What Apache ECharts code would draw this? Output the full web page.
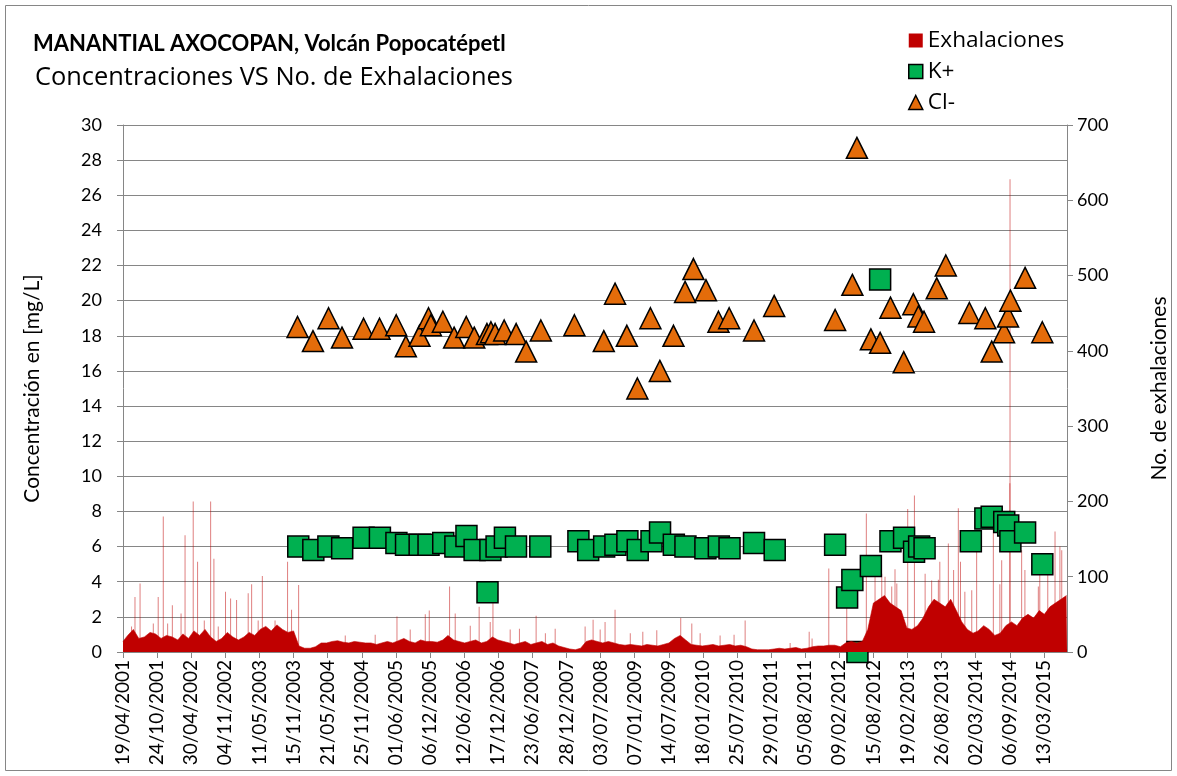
<!DOCTYPE html>
<html>
<head>
<meta charset="utf-8">
<script src="https://cdn.jsdelivr.net/npm/echarts@6/dist/echarts.min.js"></script>
<style>
  html, body { margin: 0; padding: 0; background: #fff; }
  #chart { width: 1177px; height: 776px; }
</style>
</head>
<body>
<div id="chart"></div>
<script>
// Axis origin: first tick of the date axis (Excel major unit = 188 days)
var axisStart = '2001-04-19';
var axisEnd = '2015-07-18';
var tickStepDays = 188;

// K+ (mg/L)
var kDates = ['2003-12-11','2004-03-03','2004-05-25','2004-08-09','2004-12-05','2005-03-05','2005-06-04','2005-07-27','2005-10-10','2005-11-28',
  '2006-02-17','2006-04-25','2006-06-25','2006-08-09','2006-10-19','2006-11-04','2006-12-08','2007-01-23','2007-03-25','2007-08-06',
  '2008-03-03','2008-04-26','2008-07-23','2008-09-23','2008-11-28','2009-01-24','2009-04-10','2009-05-27','2009-08-11','2009-10-14',
  '2010-02-01','2010-04-16','2010-06-14','2010-10-27','2011-02-18','2012-01-17','2012-03-23','2012-04-21','2012-05-19','2012-08-01',
  '2012-09-21','2012-11-17','2013-01-31','2013-03-27','2013-04-24','2013-05-24','2014-02-03','2014-04-24','2014-05-29','2014-08-06',
  '2014-08-28','2014-09-09','2014-11-29','2015-03-04'];
var kValues = [6.0,5.8,6.0,5.9,6.5,6.5,6.2,6.1,6.1,6.1,
  6.2,6.0,6.6,5.8,3.4,5.8,6.0,6.5,6.0,6.0,
  6.3,5.8,6.0,6.1,6.3,5.8,6.3,6.8,6.1,6.0,
  5.9,6.0,5.9,6.2,5.8,6.1,3.1,4.1,0.0,4.9,
  21.2,6.3,6.5,5.7,6.0,5.9,6.3,7.6,7.7,7.4,
  7.2,6.3,6.8,5.0];

// Cl- (mg/L)
var clDates = ['2003-12-07','2004-03-01','2004-05-26','2004-08-08','2004-12-05','2005-03-03','2005-06-03','2005-07-26','2005-10-09','2005-11-28',
  '2005-12-11','2006-02-15','2006-04-18','2006-06-24','2006-08-07','2006-10-16','2006-11-07','2006-11-30','2007-01-19','2007-03-26',
  '2007-05-20','2007-08-09','2008-02-10','2008-07-21','2008-09-21','2008-11-25','2009-01-22','2009-04-04','2009-05-26','2009-08-09',
  '2009-10-12','2009-11-27','2010-02-04','2010-04-14','2010-06-12','2010-10-27','2011-02-15','2012-01-17','2012-04-21','2012-05-16',
  '2012-08-01','2012-09-21','2012-11-17','2013-01-29','2013-03-23','2013-04-20','2013-05-21','2013-07-30','2013-09-18','2014-01-26',
  '2014-04-24','2014-05-29','2014-08-05','2014-08-27','2014-09-09','2014-11-29','2015-03-04'];
var clValues = [18.5,17.7,19.0,17.9,18.4,18.4,18.6,17.4,18.0,19.0,
  18.6,18.8,17.9,18.5,17.9,18.1,18.2,18.1,18.3,18.1,
  17.1,18.3,18.6,17.7,20.4,18.0,15.0,19.0,16.0,18.0,
  20.5,21.8,20.6,18.8,19.0,18.3,19.7,18.9,20.9,28.7,
  17.8,17.6,19.6,16.5,19.8,19.1,18.8,20.7,22.0,19.3,
  19.0,17.1,18.2,19.1,20.0,21.3,18.2];

// Exhalaciones: typical monthly level, one value per month from 2001-04 to 2015-07
var exhFirstMonth = '2001-04';
var exhMonthly = [
  14,22,30,18,20,26,24,18,22,
  20,16,24,18,28,22,30,20,14,18,26,20,
  16,20,26,22,30,34,28,36,30,26,28,8,
  5,5,7,12,12,14,15,13,12,14,13,12,
  12,10,12,14,12,15,18,14,12,16,14,14,
  13,16,22,16,14,12,14,16,12,14,20,16,
  14,12,10,12,14,10,12,14,10,12,8,6,
  4,3,5,14,16,14,12,14,12,10,9,10,
  9,8,10,9,8,10,12,18,22,16,10,9,
  8,9,10,8,9,10,8,9,7,4,3,3,
  3,4,5,4,5,6,4,5,7,8,8,9,
  9,7,12,14,12,14,30,65,70,75,65,60,
  55,32,30,35,45,60,70,65,60,70,55,40,
  30,25,28,35,30,22,25,35,40,35,45,50,
  45,55,50,60,65,70,75];

// Exhalaciones: isolated daily peaks
var exhPeakDates = ['2001-06-05','2001-06-24','2001-07-22','2001-10-03','2001-10-30','2001-11-27','2001-12-21','2002-01-16','2002-03-05','2002-03-27',
  '2002-05-11','2002-06-04','2002-07-11','2002-08-15','2002-09-02','2002-09-26','2002-11-05','2002-12-03','2003-01-05','2003-03-10',
  '2003-03-29','2003-05-04','2003-05-27','2003-08-05','2003-10-13','2003-11-04','2003-12-13','2004-08-26','2005-02-07','2005-06-07',
  '2005-08-19','2005-11-10','2005-12-02','2006-03-24','2006-04-24','2006-07-16','2006-09-03','2006-11-03','2006-11-18','2007-02-21',
  '2007-04-13','2007-07-14','2007-09-03','2007-10-27','2008-04-09','2008-05-23','2008-07-01','2008-07-28','2008-09-21','2008-12-14',
  '2009-02-21','2009-05-09','2009-09-18','2009-11-18','2010-01-03','2010-04-23','2010-07-09','2010-09-08','2011-05-14','2011-08-27',
  '2011-09-12','2011-12-13','2012-03-21','2012-07-07','2012-08-24','2012-09-30','2012-10-18','2012-11-24','2012-12-12','2012-12-22',
  '2013-02-20','2013-03-29','2013-05-27','2013-07-02','2013-08-08','2013-08-16','2013-10-02','2013-10-31','2013-11-26','2013-12-08',
  '2014-01-01','2014-02-08','2014-03-07','2014-06-07','2014-07-13','2014-07-23','2014-09-06','2014-09-07','2014-11-10','2014-11-28',
  '2015-02-10','2015-02-18','2015-04-03','2015-05-13','2015-06-09','2015-06-19'];
var exhPeakValues = [34,73,91,38,73,180,38,62,51,155,
  200,120,42,200,124,34,80,71,69,78,
  90,42,101,42,120,56,89,22,23,47,
  30,50,55,87,51,35,60,40,65,30,
  31,48,25,31,34,43,30,40,56,25,
  27,29,45,38,25,22,23,42,12,27,
  18,111,100,184,100,104,100,87,110,91,
  190,208,104,95,96,120,144,109,191,120,
  80,82,144,189,90,122,224,628,135,109,
  87,110,120,160,140,135];

var FONT = 'Lato, "Open Sans", sans-serif';
var TFONT = '"Open Sans", Lato, sans-serif';
var GRAY = '#868686';

function toUTC(s){
  var p = s.split('-');
  return Date.UTC(+p[0], +p[1] - 1, p[2] ? +p[2] : 1);
}
var T0 = toUTC(axisStart);
function dayOf(s){ return Math.round((toUTC(s) - T0) / 86400000); }
var XMAX = dayOf(axisEnd);

function pad(n){ return n < 10 ? '0' + n : '' + n; }
function fmtDate(v){
  if (v % tickStepDays !== 0) return '';
  var d = new Date(T0 + v * 86400000);
  return pad(d.getUTCDate()) + '/' + pad(d.getUTCMonth() + 1) + '/' + d.getUTCFullYear();
}

function pairs(dates, vals){
  return dates.map(function(d, i){ return [dayOf(d), vals[i]]; });
}

function monthlyPoints(){
  var p = exhFirstMonth.split('-');
  var y = +p[0], m = +p[1] - 1;
  var out = [];
  exhMonthly.forEach(function(v, i){
    var t = Date.UTC(y, m + i, 15);
    var x = Math.round((t - T0) / 86400000);
    x = Math.max(0, Math.min(XMAX, x));
    out.push([x, v]);
  });
  out.unshift([0, exhMonthly[0]]);
  out.push([XMAX, exhMonthly[exhMonthly.length - 1]]);
  return out;
}

var chart = echarts.init(document.getElementById('chart'), null, { renderer: 'canvas' });

chart.setOption({
  backgroundColor: '#fff',
  animation: false,
  textStyle: { fontFamily: FONT },
  graphic: [{
    type: 'rect', silent: true,
    shape: { x: 5.5, y: 5.5, width: 1166, height: 765 },
    style: { fill: 'none', stroke: GRAY, lineWidth: 1 }
  }],
  title: [
    { text: 'MANANTIAL AXOCOPAN, Volcán Popocatépetl', left: 28, top: 28,
      textStyle: { fontFamily: FONT, fontSize: 22, fontWeight: 'bold', color: '#000' } },
    { text: 'Concentraciones VS No. de Exhalaciones', left: 30, top: 60,
      textStyle: { fontFamily: TFONT, fontSize: 25.4, fontWeight: 'normal', color: '#000' } }
  ],
  legend: {
    orient: 'vertical', left: 903, top: 24,
    itemWidth: 14, itemHeight: 14, itemGap: 8,
    textStyle: { fontFamily: TFONT, fontSize: 22.6, color: '#000' },
    data: [
      { name: 'Exhalaciones', icon: 'rect', itemStyle: { color: '#c00000', borderWidth: 0 } },
      { name: 'K+', icon: 'rect', itemStyle: { color: '#00b050', borderColor: '#000', borderWidth: 1.5 } },
      { name: 'Cl-', icon: 'triangle', itemStyle: { color: '#e46c0a', borderColor: '#000', borderWidth: 1.5 } }
    ]
  },
  grid: { left: 123, right: 110, top: 125, bottom: 124, containLabel: false, outerBoundsMode: 'none' },
  xAxis: {
    type: 'value', min: 0, max: XMAX, interval: tickStepDays,
    axisLine: { show: true, onZero: false, lineStyle: { color: GRAY, width: 1 } },
    axisTick: { show: true, length: 6, lineStyle: { color: GRAY } },
    splitLine: { show: false },
    axisLabel: { rotate: 90, fontSize: 19, color: '#000', margin: 8, formatter: fmtDate, showMaxLabel: false }
  },
  yAxis: [{
    type: 'value', min: 0, max: 30, interval: 2, position: 'left',
    name: 'Concentración en [mg/L]', nameLocation: 'middle', nameGap: 80,
    nameTextStyle: { fontSize: 21, color: '#000' },
    axisLine: { show: true, lineStyle: { color: GRAY } },
    axisTick: { show: true, length: 6, lineStyle: { color: GRAY } },
    splitLine: { show: true, lineStyle: { color: GRAY, width: 1 } },
    axisLabel: { fontSize: 18, color: '#000', margin: 21 }
  }, {
    type: 'value', min: 0, max: 700, interval: 100, position: 'right',
    name: 'No. de exhalaciones', nameLocation: 'middle', nameGap: 82,
    nameTextStyle: { fontSize: 21, color: '#000' },
    axisLine: { show: true, lineStyle: { color: GRAY } },
    axisTick: { show: true, length: 6, lineStyle: { color: GRAY } },
    splitLine: { show: false },
    axisLabel: { fontSize: 18, color: '#000', margin: 10 }
  }],
  series: [{
    name: 'Exhalaciones', type: 'line', yAxisIndex: 1,
    data: monthlyPoints(), showSymbol: false, silent: true,
    lineStyle: { color: '#c00000', width: 0.6 },
    itemStyle: { color: '#c00000' },
    areaStyle: { color: '#c00000', opacity: 1 }
  }, {
    name: 'Exhalaciones', type: 'bar', yAxisIndex: 1,
    data: pairs(exhPeakDates, exhPeakValues), barWidth: 1, barGap: '-100%', silent: true,
    itemStyle: { color: 'rgba(192,0,0,0.5)' }
  }, {
    name: 'K+', type: 'scatter', yAxisIndex: 0,
    data: pairs(kDates, kValues), symbol: 'rect', symbolSize: 21,
    itemStyle: { color: '#00b050', borderColor: '#000', borderWidth: 1.5, opacity: 1 }
  }, {
    name: 'Cl-', type: 'scatter', yAxisIndex: 0,
    data: pairs(clDates, clValues), symbol: 'triangle', symbolSize: [21, 21],
    itemStyle: { color: '#e46c0a', borderColor: '#000', borderWidth: 1.5, opacity: 1 }
  }]
});
</script>
</body>
</html>
